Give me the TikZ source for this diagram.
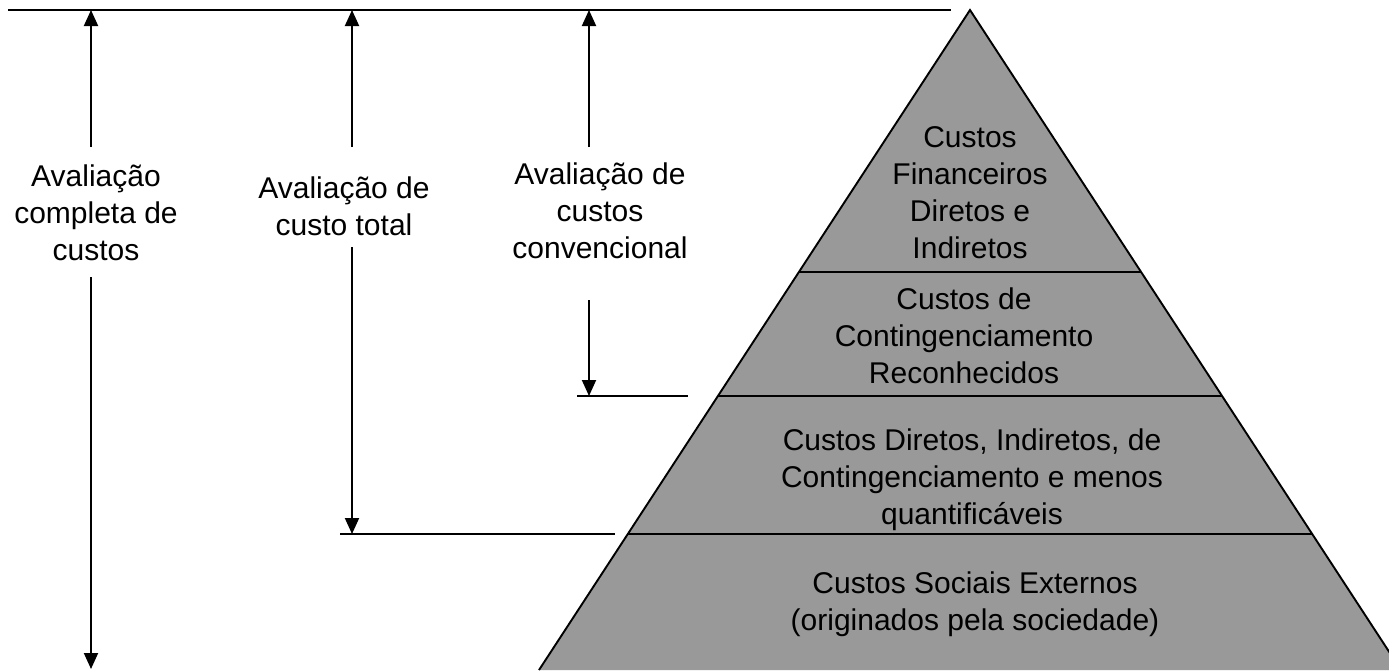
\documentclass[tikz,border=0pt]{standalone}
\usepackage{fontspec}
\setmainfont{Liberation Sans}
\usetikzlibrary{arrows.meta,calc}
\definecolor{pyrgray}{HTML}{999999}
\begin{document}
\begin{tikzpicture}[x=1pt,y=-1pt,
  lbl/.style={align=center,font=\fontsize{30}{37}\selectfont,inner sep=0pt},
  ln/.style={line width=1.9pt},
  arr/.style={ln,-{Triangle[width=14pt,length=16pt]}}]
\useasboundingbox[fill=white] (0,0) rectangle (1389,670);
% pyramid
\coordinate (apex) at (970,10);
\coordinate (bl) at (539,670);
\coordinate (br) at (1401,670);
\fill[pyrgray] (apex)--(bl)--(br)--cycle;
\draw[ln] (bl)--(apex)--(br);
\draw[ln] ($(apex)!0.397!(bl)$) -- ($(apex)!0.397!(br)$);
\draw[ln] ($(apex)!0.5848!(bl)$) -- ($(apex)!0.5848!(br)$);
\draw[ln] ($(apex)!0.7939!(bl)$) -- ($(apex)!0.7939!(br)$);
% tier texts
\node[lbl] (t1) at (970,193) {Custos\\Financeiros\\Diretos e\\Indiretos};
\node[lbl] (t2) at (964,336) {Custos de\\Contingenciamento\\Reconhecidos};
\node[lbl] (t3) at (972,480) {Custos Diretos, Indiretos, de\\Contingenciamento e menos\\quantificáveis};
\node[lbl] (t4) at (975,604) {Custos Sociais Externos\\(originados pela sociedade)};
% reference lines
\coordinate (topL) at (8,10);
\coordinate (topR) at (951,10);
\coordinate (midL) at (577,396);
\coordinate (midR) at (688,396);
\coordinate (lowL) at (340,534);
\coordinate (lowR) at (615,534);
\draw[ln] (topL) -- (topR);
\draw[ln] (midL) -- (midR);
\draw[ln] (lowL) -- (lowR);
% labels
\node[lbl] (e1) at (96,213) {Avaliação\\completa de\\custos};
\node[lbl] (e2) at (344,206) {Avaliação de\\custo total};
\node[lbl] (e3) at (600,211) {Avaliação de\\custos\\convencional};
% arrows
\coordinate (a1top) at (91,10);
\coordinate (a1u) at (91,147);
\coordinate (a1d) at (91,277);
\coordinate (a1bot) at (91,669);
\coordinate (a2top) at (352,10);
\coordinate (a2u) at (352,147);
\coordinate (a2d) at (352,247);
\coordinate (a2bot) at (352,534);
\coordinate (a3top) at (589,10);
\coordinate (a3u) at (589,147);
\coordinate (a3d) at (589,300);
\coordinate (a3bot) at (589,396);
\draw[arr] (a1u) -- (a1top);
\draw[arr] (a1d) -- (a1bot);
\draw[arr] (a2u) -- (a2top);
\draw[arr] (a2d) -- (a2bot);
\draw[arr] (a3u) -- (a3top);
\draw[arr] (a3d) -- (a3bot);
\end{tikzpicture}
\end{document}
